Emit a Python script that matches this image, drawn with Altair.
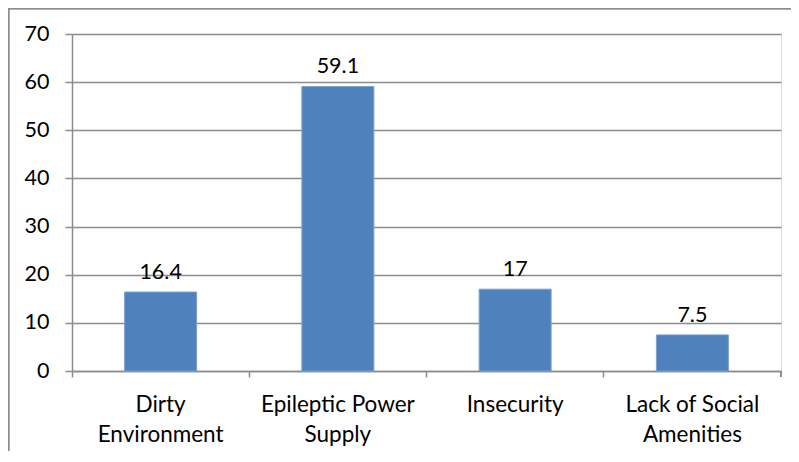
import altair as alt
import pandas as pd

categories = ["Dirty\nEnvironment", "Epileptic Power\nSupply", "Insecurity", "Lack of Social\nAmenities"]
values = [16.4, 59.1, 17, 7.5]
value_labels = ["16.4", "59.1", "17", "7.5"]

df = pd.DataFrame({"cat": categories, "val": values, "lab": value_labels})

W, H = 709, 337
FONT = "Lato"
FS = 21.5
XFS = 22.5
GRAY = "#8c8c8c"

x = alt.X("cat:N", sort=categories, title=None,
          scale=alt.Scale(paddingInner=0, paddingOuter=0),
          axis=alt.Axis(labelExpr="split(datum.label, '\\n')", labelAngle=0,
                        labelFont=FONT, labelFontSize=XFS, labelColor="#000000",
                        labelPadding=16, labelLineHeight=30,
                        bandPosition=0, tickSize=6, tickColor=GRAY, tickWidth=1.5,
                        domainColor=GRAY, domainWidth=1.5, grid=False))
y = alt.Y("val:Q", title=None,
          scale=alt.Scale(domain=[0, 70], nice=False),
          axis=alt.Axis(values=list(range(0, 71, 10)), labelFont=FONT, labelFontSize=FS,
                        labelColor="#000000", labelPadding=16, tickSize=7,
                        tickColor=GRAY, tickWidth=1.5, domainColor=GRAY, domainWidth=1.5,
                        gridColor=GRAY, gridWidth=1.5))

base = alt.Chart(df)
bars = base.mark_bar(size=72, color="#4F81BD", stroke="#7aa1d0", strokeWidth=1).encode(x=x, y=y)
text = base.mark_text(dy=-19, font=FONT, fontSize=FS, color="#000000", baseline="middle").encode(
    x=alt.X("cat:N", sort=categories), y="val:Q", text="lab:N")
end_tick = base.mark_rule(color=GRAY, strokeWidth=1.5).encode(
    x=alt.value(W), y=alt.value(H), y2=alt.value(H + 6))
border_left = base.mark_rule(color=GRAY, strokeWidth=1.5).encode(
    x=alt.value(-63.5), y=alt.value(-25.5), y2=alt.value(H + 100))
border_top = base.mark_rule(color=GRAY, strokeWidth=1.5).encode(
    x=alt.value(-64), x2=alt.value(W + 20), y=alt.value(-25.5))

chart = alt.layer(bars, text, end_tick, border_left, border_top).properties(
    width=W, height=H,
    autosize=alt.AutoSizeParams(type="none"),
    padding={"left": 64, "top": 26, "right": 10, "bottom": 80},
).configure_view(stroke=None).configure(background="white")

chart.save("out.html", embed_options={"renderer": "svg", "actions": False})
